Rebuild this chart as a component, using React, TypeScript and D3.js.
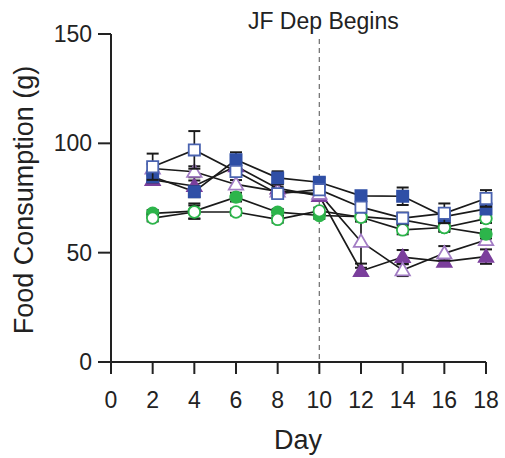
import React from "react";
import * as d3 from "d3";

const days = [2, 4, 6, 8, 10, 12, 14, 16, 18];
const xTicks = [0, 2, 4, 6, 8, 10, 12, 14, 16, 18];
const yTicks = [0, 50, 100, 150];

const filledSquareMean = [84.7, 77.9, 92.5, 84.2, 82.2, 76.0, 75.8, 66.5, 70.0];
const filledSquareSem = [2.5, 2.5, 3.4, 3, 2, 2, 4, 2, 2];
const openSquareMean = [89.3, 97.0, 87.1, 77.0, 78.8, 70.8, 65.8, 68.0, 74.8];
const openSquareSem = [6, 8.6, 2, 2, 2, 2, 2.5, 4.5, 3.8];
const filledTriangleMean = [83.3, 80.5, 89.5, 79.4, 76.0, 41.6, 48.0, 45.9, 48.2];
const filledTriangleSem = [2, 2.5, 2, 2, 2, 1.5, 3.2, 1.5, 3.3];
const openTriangleMean = [88.5, 87.0, 81.2, 78.0, 77.0, 55.0, 42.0, 49.7, 55.8];
const openTriangleSem = [2, 2.5, 2, 2, 2, 10, 2.7, 3.3, 2];
const filledCircleMean = [68.0, 69.0, 75.4, 68.5, 67.0, 66.5, 65.0, 61.5, 58.5];
const filledCircleSem = [1.5, 3.5, 2, 1.5, 1.5, 2, 2, 2, 2];
const openCircleMean = [65.8, 68.6, 68.6, 65.2, 69.1, 66.2, 60.4, 61.5, 65.6];
const openCircleSem = [1.5, 3, 1.5, 1.5, 1.5, 2, 2, 1.5, 2];

const eventDay = 10;
const eventLabel = "JF Dep Begins";

const BLUE = "#2f4fa6";
const PURPLE = "#7b3f9c";
const LPURPLE = "#a27cc4";
const GREEN = "#2db54b";

type Series = {
  name: string;
  mean: number[];
  sem: number[];
  shape: "square" | "triangle" | "circle";
  fill: string;
  stroke: string;
};

const series: Series[] = [
  { name: "filledTriangle", mean: filledTriangleMean, sem: filledTriangleSem, shape: "triangle", fill: PURPLE, stroke: PURPLE },
  { name: "openTriangle", mean: openTriangleMean, sem: openTriangleSem, shape: "triangle", fill: "#ffffff", stroke: LPURPLE },
  { name: "filledCircle", mean: filledCircleMean, sem: filledCircleSem, shape: "circle", fill: GREEN, stroke: GREEN },
  { name: "openCircle", mean: openCircleMean, sem: openCircleSem, shape: "circle", fill: "#ffffff", stroke: GREEN },
  { name: "filledSquare", mean: filledSquareMean, sem: filledSquareSem, shape: "square", fill: BLUE, stroke: BLUE },
  { name: "openSquare", mean: openSquareMean, sem: openSquareSem, shape: "square", fill: "#ffffff", stroke: "#4a63b0" },
];

const FONT = "'Liberation Sans', Arial, Helvetica, sans-serif";

export default function App() {
  const W = 505;
  const H = 458;
  const x = d3.scaleLinear().domain([0, 18]).range([111, 486]);
  const y = d3.scaleLinear().domain([0, 150]).range([362, 34]);

  const line = d3
    .line<number>()
    .x((_, i) => x(days[i]))
    .y((d) => y(d));

  const symbolPath = (shape: Series["shape"]) => {
    if (shape === "square") return d3.symbol().type(d3.symbolSquare).size(125)()!;
    if (shape === "triangle") return d3.symbol().type(d3.symbolTriangle).size(90)()!;
    return d3.symbol().type(d3.symbolCircle).size(105)()!;
  };

  const cap = 6;

  return (
    <svg
      width={W}
      height={H}
      style={{ position: "absolute", left: 0, top: 0, background: "#fff" }}
      fontFamily={FONT}
    >
      <rect x={0} y={0} width={W} height={H} fill="#fff" />
      <line
        x1={x(eventDay)}
        x2={x(eventDay)}
        y1={39}
        y2={y(0) + 8}
        stroke="#777"
        strokeWidth={1.3}
        strokeDasharray="5,4"
      />
      <text x={x(eventDay) + 4} y={29} fontSize={23} textAnchor="middle" fill="#222">
        {eventLabel}
      </text>

      <line x1={x(0)} x2={x(0)} y1={y(150)} y2={y(0)} stroke="#222" strokeWidth={2} />
      <line x1={x(0)} x2={x(18)} y1={y(0)} y2={y(0)} stroke="#222" strokeWidth={2} />
      {yTicks.map((t) => (
        <g key={"y" + t}>
          <line x1={x(0) - 13} x2={x(0)} y1={y(t)} y2={y(t)} stroke="#222" strokeWidth={2} />
          <text x={92} y={y(t) + 8} fontSize={23} textAnchor="end" fill="#222">
            {t}
          </text>
        </g>
      ))}
      {xTicks.map((t) => (
        <g key={"x" + t}>
          <line x1={x(t)} x2={x(t)} y1={y(0)} y2={y(0) + 12} stroke="#222" strokeWidth={2} />
          <text x={x(t)} y={408} fontSize={23} textAnchor="middle" fill="#222">
            {t}
          </text>
        </g>
      ))}
      <text x={298} y={449} fontSize={27} textAnchor="middle" fill="#222">
        Day
      </text>
      <text
        transform={`translate(33,200) rotate(-90)`}
        fontSize={27}
        textAnchor="middle"
        fill="#222"
      >
        Food Consumption (g)
      </text>

      {series.map((s) => (
        <path key={"l" + s.name} d={line(s.mean)!} fill="none" stroke="#1a1a1a" strokeWidth={1.7} />
      ))}

      {series.map((s) => (
        <g key={"s" + s.name}>
          {s.mean.map((m, i) => {
            const cx = x(days[i]);
            const top = y(m + s.sem[i]);
            const bot = y(m - s.sem[i]);
            return (
              <g key={i}>
                <line x1={cx} x2={cx} y1={top} y2={bot} stroke="#1a1a1a" strokeWidth={1.7} />
                <line x1={cx - cap} x2={cx + cap} y1={top} y2={top} stroke="#1a1a1a" strokeWidth={2} />
                <line x1={cx - cap} x2={cx + cap} y1={bot} y2={bot} stroke="#1a1a1a" strokeWidth={2} />
              </g>
            );
          })}
          {s.mean.map((m, i) => (
            <path
              key={"m" + i}
              d={symbolPath(s.shape)}
              transform={`translate(${x(days[i])},${y(m) + (s.shape === "triangle" ? 1 : 0)})`}
              fill={s.fill}
              stroke={s.stroke}
              strokeWidth={1.8}
            />
          ))}
        </g>
      ))}
    </svg>
  );
}
